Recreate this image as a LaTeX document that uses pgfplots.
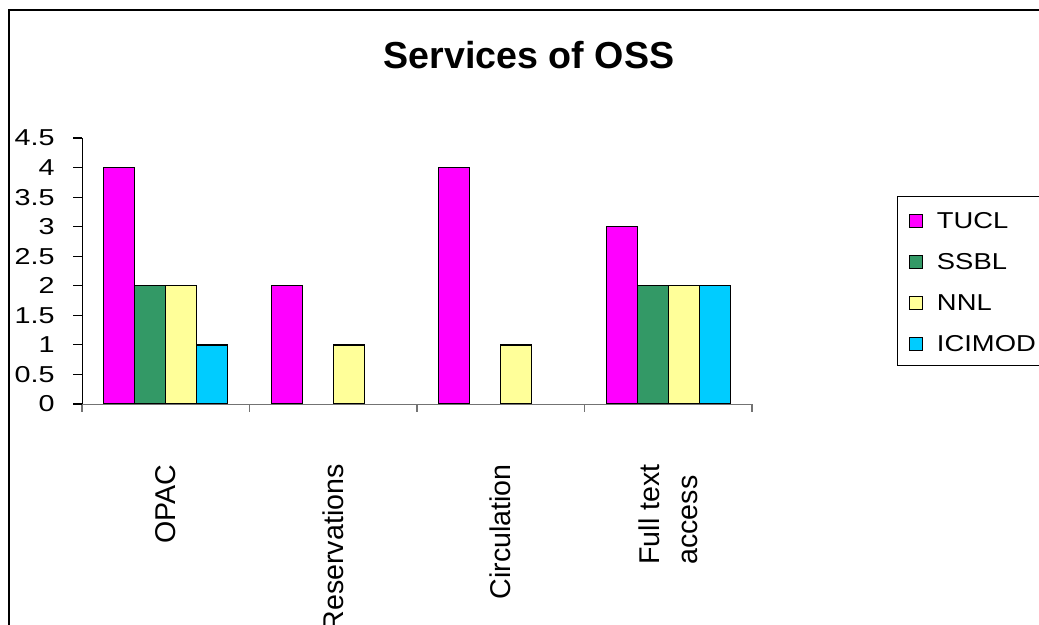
\documentclass[border=0pt]{standalone}
\usepackage{pgfplots}
\pgfplotsset{compat=1.18}
\usepackage{fontspec}
\setmainfont{Liberation Sans}
\newfontfamily\widesans[FakeStretch=1.25]{Liberation Sans}
\newfontfamily\legendsans[FakeStretch=1.19]{Liberation Sans}

\definecolor{tucl}{RGB}{255,0,255}
\definecolor{ssbl}{RGB}{51,153,102}
\definecolor{nnl}{RGB}{255,255,153}
\definecolor{icimod}{RGB}{0,204,255}

\begin{document}
\begin{tikzpicture}
% page area and chart frame
\path[use as bounding box, clip] (0,0) rectangle (519.5pt,312.5pt);
\draw[line width=0.8pt] (4.5pt,-10pt) rectangle (530pt,307.5pt);
\node[anchor=base, font=\fontsize{18.8}{22}\selectfont\bfseries] at (264.5pt,278pt) {Services of OSS};

\begin{axis}[
  at={(41pt,110.5pt)}, anchor=south west,
  scale only axis, width=335pt, height=133pt,
  ybar=0pt, bar width=15.5pt,
  xmin=-0.5, xmax=3.5, ymin=0, ymax=4.5,
  axis lines*=left, axis line style={-},
  x axis line style={draw=black!55},
  tick align=outside,
  xtick={0,1,2,3},
  xticklabels={OPAC,Reservations,Circulation,{Full text\\access}},
  major x tick style={draw=none},
  minor xtick={-0.5,0.5,1.5,2.5,3.5},
  minor x tick style={draw=black!55, line width=0.6pt},
  minor tick length=4pt,
  major tick length=4.5pt,
  ytick={0,0.5,1,1.5,2,2.5,3,3.5,4,4.5},
  y tick style={draw=black, line width=0.6pt},
  /pgf/number format/assume math mode=true,
  yticklabel style={font=\widesans\fontsize{11.5}{13}\selectfont, inner sep=0pt, xshift=-9pt},
  xticklabel style={rotate=90, anchor=east, align=left, inner sep=0pt,
    font=\fontsize{14.3}{19}\selectfont},
  xticklabel shift=25.5pt,
  legend cell align=left,
  legend style={at={(1.2164,0.782)}, anchor=north west,
    draw=black, line width=0.6pt,
    font=\legendsans\fontsize{11.5}{13}\selectfont,
    inner xsep=5.5pt, inner ysep=6.3pt,
    row sep=10pt, column sep=6.8pt,
    nodes={inner sep=0pt, text height=9.7pt, text depth=0.8pt, anchor=base west}},
  legend image code/.code={\draw[#1, draw=black, line width=0.6pt] (0pt,0.4pt) rectangle (6.8pt,7.2pt);},
]
\addplot[fill=tucl, draw=black, line width=0.7pt] coordinates {(0,4) (1,2) (2,4) (3,3)};
\addplot[fill=ssbl, draw=black, line width=0.7pt] coordinates {(0,2) (3,2)};
\addplot[fill=nnl, draw=black, line width=0.7pt] coordinates {(0,2) (1,1) (2,1) (3,2)};
\addplot[fill=icimod, draw=black, line width=0.7pt] coordinates {(0,1) (3,2)};
\legend{TUCL,SSBL,NNL,ICIMOD}
\end{axis}
\end{tikzpicture}
\end{document}
